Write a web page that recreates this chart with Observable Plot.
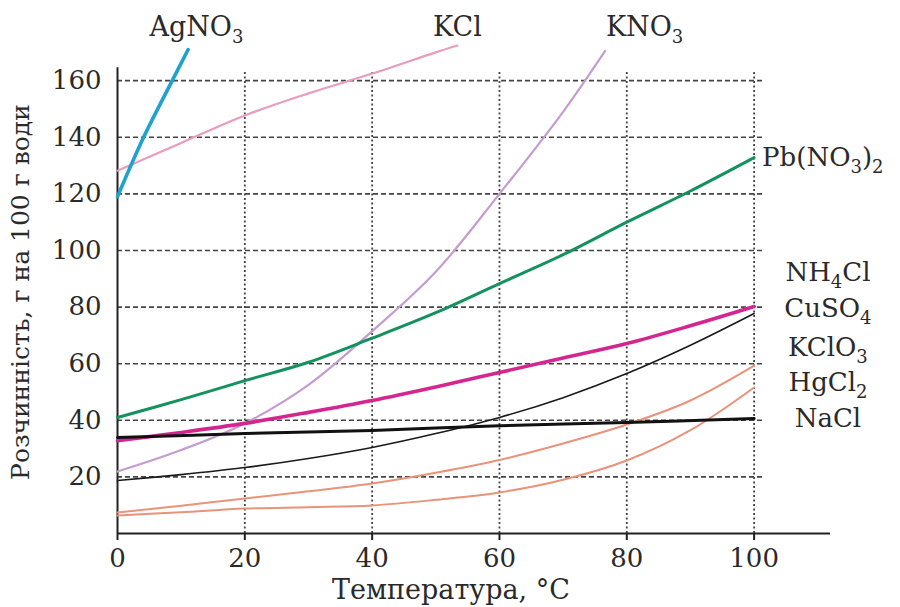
<!DOCTYPE html>
<html>
<head>
<meta charset="utf-8">
<script src="https://cdn.jsdelivr.net/npm/d3@7"></script>
<script src="https://cdn.jsdelivr.net/npm/@observablehq/plot@0.6"></script>
<style>
  html, body { margin: 0; padding: 0; background: #fff; }
  svg { font-family: "DejaVu Serif", serif; }
</style>
</head>
<body>
<div id="chart"></div>
<script>
// ---- data (temperature °C, solubility g per 100 g water) ----
const xTicks = [0, 20, 40, 60, 80, 100];
const yTicks = [20, 40, 60, 80, 100, 120, 140, 160];

const agno3T = [0, 4.1, 8.6, 11.1];
const agno3S = [119, 140, 160, 171];

const kclT = [0, 10, 20, 30, 40, 50, 53.4];
const kclS = [128.2, 138, 147.7, 155.5, 162.5, 170, 172.4];

const kno3T = [0, 10, 20, 30, 40, 50, 60, 70, 76.6];
const kno3S = [21.9, 29.5, 38.9, 52.5, 71.5, 92.5, 120, 149, 170.5];

const pbT = [0, 10, 20, 30, 40, 50, 60, 70, 80, 90, 100];
const pbS = [41, 47.3, 54, 60.5, 69, 78, 88.3, 98.5, 110, 121, 132.8];

const cuso4T = [0, 10, 20, 30, 40, 50, 60, 70, 80, 90, 100];
const cuso4S = [32.8, 35.7, 38.9, 42.8, 47, 51.8, 56.9, 62, 67.1, 73.4, 80.2];

const nh4clT = [0, 10, 20, 30, 40, 50, 60, 70, 80, 90, 100];
const nh4clS = [18.7, 20.8, 23.3, 26.5, 30.4, 35.3, 41, 48, 56.5, 66.5, 77.7];

const naclT = [0, 20, 40, 60, 80, 100];
const naclS = [33.9, 35.3, 36.4, 38.1, 39.2, 40.6];

const hgcl2T = [0, 10, 20, 30, 40, 50, 60, 70, 80, 90, 100];
const hgcl2S = [7.4, 9.8, 12.4, 14.9, 17.7, 21.5, 26, 31.8, 38.5, 47, 59.3];

const kclo3T = [0, 10, 20, 30, 40, 50, 60, 70, 80, 90, 100];
const kclo3S = [6.4, 7.5, 8.8, 9.3, 9.9, 11.9, 14.5, 19, 25.8, 36.5, 51.6];

// labels (data-space anchors)
const topLabels = ["AgNO3", "KCl", "KNO3"];
const topLabelX = [12.4, 53.4, 82.8];
const topLabelY = 179;
const rightLabels = ["NH4Cl", "CuSO4", "KClO3", "HgCl2", "NaCl"];
const rightLabelY = [92.2, 79.5, 65.7, 53.3, 40.6];
const rightLabelX = 111.6;

const yTitle = "Розчинність, г на 100 г води";
const xTitle = "Температура, °C";

// ---- build tables ----
const pts = (T, S) => T.map((t, i) => ({t, s: S[i]}));

const font = "DejaVu Serif";
const txt = "#2a2a2a";

const line = (T, S, stroke, w) =>
  Plot.line(pts(T, S), {x: "t", y: "s", stroke, strokeWidth: w, curve: "catmull-rom", strokeLinecap: "round"});

const chart = Plot.plot({
  width: 900,
  height: 607,
  marginLeft: 117,
  marginRight: 70,
  marginTop: 66,
  marginBottom: 74,
  style: {fontFamily: font, background: "#fff"},
  x: {domain: [0, 112]},
  y: {domain: [0, 165]},
  marks: [
    // grid
    Plot.ruleY(yTicks, {x1: 0, x2: 101.4, stroke: "#444", strokeWidth: 1.6, strokeDasharray: "5,3"}),
    Plot.ruleX(xTicks.slice(1), {y1: 0, y2: 163.5, stroke: "#444", strokeWidth: 1.8, strokeDasharray: "2,2.5"}),
    // axes
    Plot.axisX({ticks: xTicks, tickSize: 7, tickPadding: 8, fontSize: 26, fill: txt, stroke: "#222", strokeWidth: 2, label: null}),
    Plot.axisY({ticks: yTicks, tickSize: 0, tickPadding: 16, fontSize: 26, fill: txt, label: null}),
    Plot.ruleX([0], {y1: 0, y2: 164.6, stroke: "#222", strokeWidth: 2}),
    Plot.ruleY([0], {x1: 0, x2: 112, stroke: "#222", strokeWidth: 2}),
    // curves
    line(kclo3T, kclo3S, "#e8937a", 2),
    line(hgcl2T, hgcl2S, "#e8937a", 2),
    line(nh4clT, nh4clS, "#1a1a1a", 1.6),
    line(kno3T, kno3S, "#c59ccf", 2.2),
    line(kclT, kclS, "#ea9cbc", 2.2),
    line(pbT, pbS, "#13925e", 3),
    line(cuso4T, cuso4S, "#d4268e", 3.6),
    line(naclT, naclS, "#111", 3),
    line(agno3T, agno3S, "#1fa2cc", 3.6),
    // labels
    Plot.text(topLabels, {x: (d, i) => topLabelX[i], y: topLabelY, text: d => d, fontSize: 27, fill: txt, className: "chem"}),
    Plot.text(rightLabels, {x: rightLabelX, y: (d, i) => rightLabelY[i], text: d => d, fontSize: 26, fill: txt, className: "chem"}),
    Plot.text(["Pb(NO3)2"], {x: pbT[pbT.length - 1], y: pbS[pbS.length - 1], text: d => d, dx: 8, textAnchor: "start", fontSize: 26, fill: txt, className: "chem"}),
    // titles
    Plot.text([yTitle], {frameAnchor: "left", text: d => d, rotate: -90, textAnchor: "middle", lineAnchor: "middle", dx: -97, dy: -8, fontSize: 25, fill: txt}),
    Plot.text([xTitle], {frameAnchor: "bottom", text: d => d, textAnchor: "middle", lineAnchor: "middle", dx: -23, dy: 57, fontSize: 27, fill: txt})
  ]
});

// chemical subscripts
const ns = "http://www.w3.org/2000/svg";
chart.querySelectorAll("g.chem text").forEach(t => {
  const s = t.textContent;
  t.textContent = "";
  const parts = s.match(/\d+|\D+/g);
  let prevSub = false;
  parts.forEach(p => {
    const ts = document.createElementNS(ns, "tspan");
    ts.textContent = p;
    if (/^\d+$/.test(p)) {
      ts.setAttribute("font-size", "18");
      ts.setAttribute("dy", "7");
      prevSub = true;
    } else if (prevSub) {
      ts.setAttribute("dy", "-7");
      prevSub = false;
    }
    t.appendChild(ts);
  });
});

document.getElementById("chart").appendChild(chart);
</script>
</body>
</html>
